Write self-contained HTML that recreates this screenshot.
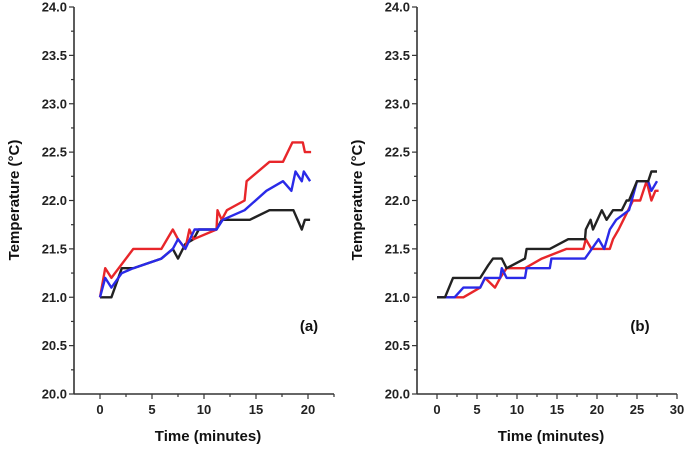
<!DOCTYPE html>
<html><head><meta charset="utf-8"><style>
html,body{margin:0;padding:0;background:#fff;}
svg{display:block;font-family:"Liberation Sans",Arial,sans-serif;}
</style></head><body>
<svg id="chart" width="685" height="450" viewBox="0 0 685 450"></svg>
<script>
const yTicks=[20.0,20.5,21.0,21.5,22.0,22.5,23.0,23.5,24.0];
const xTicksA=[0,5,10,15,20];
const xTicksB=[0,5,10,15,20,25,30];
const redA_t=[0,0.5,1.1,3.2,5.9,7.0,7.5,8.2,8.6,9.0,11.2,11.3,11.7,12.2,13.9,14.1,16.3,17.6,18.5,19.5,19.7,20.3];
const redA_v=[21.0,21.3,21.2,21.5,21.5,21.7,21.6,21.5,21.7,21.6,21.7,21.9,21.8,21.9,22.0,22.2,22.4,22.4,22.6,22.6,22.5,22.5];
const blueA_t=[0,0.5,1.1,2.1,3.2,5.9,7.0,7.5,8.2,9.1,11.2,11.8,13.9,16.0,17.6,18.4,18.8,19.4,19.6,20.2];
const blueA_v=[21.0,21.2,21.1,21.25,21.3,21.4,21.5,21.6,21.5,21.7,21.7,21.8,21.9,22.1,22.2,22.1,22.3,22.2,22.3,22.2];
const blackA_t=[0,1.1,2.1,3.2,5.9,7.0,7.5,8.2,9.0,9.5,11.2,11.7,14.4,16.3,18.6,19.4,19.7,20.2];
const blackA_v=[21.0,21.0,21.3,21.3,21.4,21.5,21.4,21.55,21.6,21.7,21.7,21.8,21.8,21.9,21.9,21.7,21.8,21.8];
const blackB_t=[0,1.0,2.0,5.4,6.4,7.0,8.1,8.7,11.0,11.2,14.1,16.4,18.5,18.6,19.2,19.5,20.6,21.2,22.0,23.1,23.7,24.0,25.0,26.4,26.8,27.5];
const blackB_v=[21.0,21.0,21.2,21.2,21.33,21.4,21.4,21.3,21.4,21.5,21.5,21.6,21.6,21.7,21.8,21.7,21.9,21.8,21.9,21.9,22.0,22.0,22.2,22.2,22.3,22.3];
const redB_t=[0,2.25,3.3,5.4,6.0,7.25,7.9,8.7,11.0,13.1,16.2,18.3,18.6,19.3,21.6,22.0,22.7,23.3,24.5,25.4,25.8,26.2,26.8,27.3,27.7];
const redB_v=[21.0,21.0,21.0,21.1,21.2,21.1,21.2,21.3,21.3,21.4,21.5,21.5,21.6,21.5,21.5,21.6,21.7,21.8,22.0,22.0,22.1,22.2,22.0,22.1,22.1];
const blueB_t=[0,2.2,3.3,5.4,6.0,7.9,8.1,8.7,11.0,11.2,14.1,14.3,18.5,20.2,20.9,21.6,22.4,24.0,25.0,26.4,26.8,27.5];
const blueB_v=[21.0,21.0,21.1,21.1,21.2,21.2,21.3,21.2,21.2,21.3,21.3,21.4,21.4,21.6,21.5,21.7,21.8,21.9,22.2,22.2,22.1,22.2];

const svg=document.getElementById('chart');
const NS='http://www.w3.org/2000/svg';
function mk(tag,attrs,parent){const e=document.createElementNS(NS,tag);for(const k in attrs)e.setAttribute(k,attrs[k]);(parent||svg).appendChild(e);return e;}
const yTop=7,yBot=394;
function yS(v){return yBot-(v-20)/4*(yBot-yTop);}

function panel(cfg){
  const g=mk('g',{});
  
  
  const xS=t=>cfg.x0+t*cfg.ppm;
  const left=xS(-2.5), right=xS(cfg.xmax);
  const ya=mk('line',{x1:left,y1:yTop,x2:left,y2:yBot,stroke:'#333','stroke-width':1.6},g);
  
  const xa=mk('line',{x1:left,y1:yBot,x2:right,y2:yBot,stroke:'#333','stroke-width':1.6},g);
  
  for(let i=0;i<=16;i++){const v=20+i*0.25;const y=yS(v);
    mk('line',{x1:left-(i%2?3:5),y1:y,x2:left,y2:y,stroke:'#333','stroke-width':1.2},g);}
  yTicks.forEach(v=>{const t=mk('text',{x:left-7,y:yS(v)+4.5,'text-anchor':'end','font-size':13,'font-weight':'bold',fill:'#222'},g);
    t.textContent=v.toFixed(1);
    });
  for(let m=-2.5;m<=cfg.xmax+0.01;m+=2.5){if(m<-2)continue;const x=xS(m);const major=Math.abs(m%5)<0.01;
    mk('line',{x1:x,y1:yBot,x2:x,y2:yBot+(major?5:3),stroke:'#333','stroke-width':1.2},g);}
  cfg.xt.forEach(v=>{const t=mk('text',{x:xS(v),y:yBot+20,'text-anchor':'middle','font-size':13,'font-weight':'bold',fill:'#222'},g);
    t.textContent=v;});
  const yt=mk('text',{x:0,y:0,'text-anchor':'middle','font-size':15,'font-weight':'bold',fill:'#111',transform:`translate(${cfg.ytx},200) rotate(-90)`},g);
  yt.textContent='Temperature (°C)';
  const xt=mk('text',{x:(left+right)/2+4,y:441,'text-anchor':'middle','font-size':15,'font-weight':'bold',fill:'#111'},g);
  xt.textContent='Time (minutes)';
  const lb=mk('text',{x:cfg.lx,y:331,'text-anchor':'middle','font-size':15,'font-weight':'bold',fill:'#111'},g);
  lb.textContent=cfg.label;
  cfg.series.forEach(s=>{const pts=s.t.map((t,i)=>xS(t).toFixed(1)+','+yS(s.v[i]).toFixed(1)).join(' ');
    const p=mk('polyline',{points:pts,fill:'none',stroke:s.c,'stroke-width':2.4,'stroke-linejoin':'round'},g);
    });
}
panel({name:'panel-a',x0:100,ppm:10.4,xmax:22.5,xt:xTicksA,ytx:19,lx:309,label:'(a)',
  series:[{t:blackA_t,v:blackA_v,c:'#222',n:'series-black-a'},{t:redA_t,v:redA_v,c:'#e8262a',n:'series-red-a'},{t:blueA_t,v:blueA_v,c:'#2a2ae8',n:'series-blue-a'}]});
panel({name:'panel-b',x0:437,ppm:8.0,xmax:30,xt:xTicksB,ytx:362,lx:640,label:'(b)',
  series:[{t:redB_t,v:redB_v,c:'#e8262a',n:'series-red-b'},{t:blueB_t,v:blueB_v,c:'#2a2ae8',n:'series-blue-b'},{t:blackB_t,v:blackB_v,c:'#222',n:'series-black-b'}]});
</script>
</body></html>
